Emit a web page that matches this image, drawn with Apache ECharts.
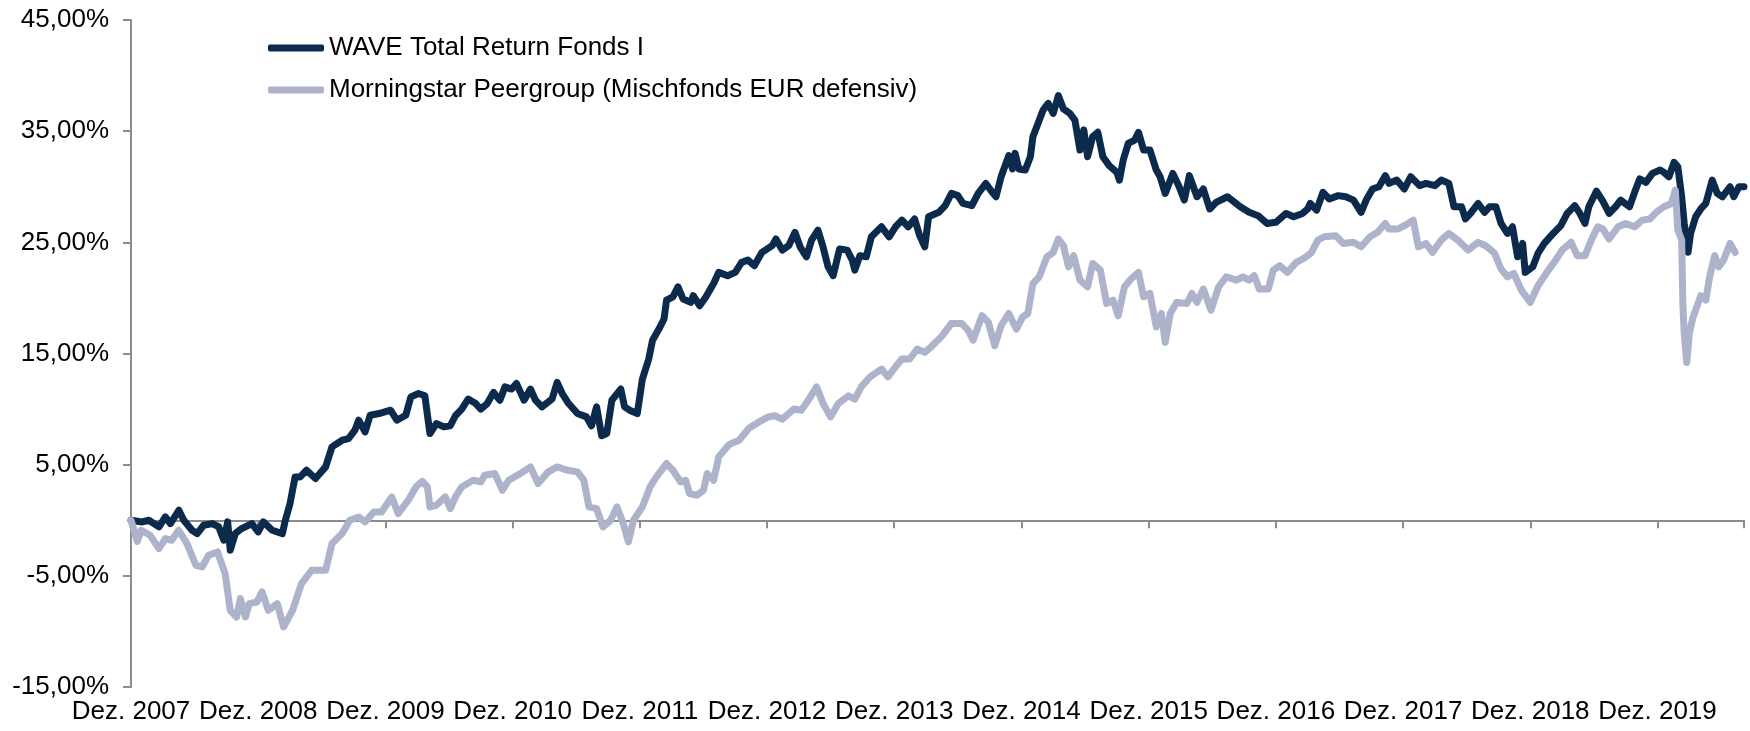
<!DOCTYPE html>
<html>
<head>
<meta charset="utf-8">
<script src="https://cdn.jsdelivr.net/npm/echarts@6/dist/echarts.min.js"></script>
<style>
html,body{margin:0;padding:0;background:#fff;}
#chart{width:1750px;height:731px;}
</style>
</head>
<body>
<div id="chart"></div>
<script>
// x values: years after Dez. 2007
var xTickLabels = ["Dez. 2007","Dez. 2008","Dez. 2009","Dez. 2010","Dez. 2011","Dez. 2012","Dez. 2013","Dez. 2014","Dez. 2015","Dez. 2016","Dez. 2017","Dez. 2018","Dez. 2019"];
var seriesNames = ["WAVE Total Return Fonds I","Morningstar Peergroup (Mischfonds EUR defensiv)"];

var waveT = [0,0.088,0.14,0.22,0.27,0.31,0.376,0.415,0.48,0.52,0.57,0.64,0.69,0.73,0.76,0.78,0.82,0.87,0.95,1.0,1.04,1.11,1.19,1.21,1.25,1.29,1.33,1.38,1.45,1.53,1.58,1.66,1.71,1.76,1.79,1.84,1.88,1.95,2.04,2.09,2.16,2.2,2.26,
2.31,2.35,2.40,2.46,2.51,2.55,2.6,2.65,2.71,2.75,2.8,2.85,2.9,2.94,2.99,3.03,3.09,3.14,3.18,3.23,3.31,3.35,3.39,3.44,3.51,3.58,3.62,3.66,3.7,3.74,3.78,3.85,3.88,3.92,3.98,4.02,4.07,4.1,4.15,4.19,4.21,4.26,4.3,4.34,4.4,4.42,4.47,4.52,4.58,
4.62,4.69,4.75,4.8,4.85,4.9,4.96,5.04,5.07,5.12,5.17,5.22,5.26,5.31,5.35,5.4,5.44,5.48,5.52,5.57,5.63,5.67,5.69,5.73,5.78,5.82,5.9,5.96,6.01,6.06,6.11,6.16,6.2,6.24,6.27,6.35,6.4,6.45,6.5,6.54,6.61,6.66,6.72,6.77,6.8,6.84,6.9,
6.93,6.95,6.98,7.03,7.07,7.09,7.13,7.17,7.21,7.25,7.29,7.33,7.38,7.42,7.46,7.49,7.52,7.56,7.6,7.64,7.69,7.75,7.77,7.8,7.84,7.89,7.92,7.96,8.01,8.06,8.09,8.13,8.19,8.24,8.28,8.32,8.38,8.43,8.48,8.53,8.62,8.72,8.79,8.86,8.93,9.0,9.08,9.14,9.21,9.25,
9.27,9.32,9.37,9.42,9.49,9.55,9.61,9.67,9.71,9.76,9.81,9.86,9.89,9.95,10.01,10.06,10.13,10.18,10.25,10.3,10.36,10.4,10.46,10.49,10.53,10.59,10.64,10.68,10.73,10.77,10.82,10.86,10.9,10.94,10.96,11.02,11.06,11.11,11.18,
11.24,11.29,11.35,11.39,11.43,11.46,11.52,11.57,11.62,11.67,11.71,11.78,11.82,11.86,11.91,11.96,12.02,12.05,12.09,12.13,12.16,12.19,12.21,12.24,12.26,12.3,12.34,12.38,12.43,12.47,12.51,12.57,12.6,12.64,12.68];
var waveValues = [0,-0.15,0,-0.6,0.3,-0.3,0.9,0,-0.9,-1.2,-0.45,-0.3,-0.6,-1.8,-0.15,-2.7,-1.2,-0.75,-0.3,-1.05,-0.15,-0.9,-1.2,-0.15,1.5,3.9,3.9,4.5,3.75,4.8,6.6,7.2,7.35,8.1,9.0,7.95,9.45,9.6,9.9,9.0,9.45,11.1,11.4,
11.2,7.8,8.7,8.4,8.5,9.4,10.0,10.9,10.5,10.0,10.5,11.5,10.8,12.0,11.8,12.3,10.8,11.8,10.8,10.2,10.9,12.4,11.4,10.5,9.6,9.3,8.5,10.2,7.6,7.8,10.8,11.8,10.2,9.9,9.6,12.7,14.5,16.2,17.2,18.1,19.8,20.1,21.0,19.9,19.6,20.2,19.3,20.1,21.3,
22.3,22.0,22.3,23.2,23.4,22.9,24.1,24.7,25.3,24.3,24.7,25.9,24.6,23.7,25.2,26.1,24.6,22.8,22.0,24.4,24.3,23.4,22.5,23.8,23.7,25.5,26.4,25.5,26.4,27.0,26.4,27.1,25.6,24.6,27.3,27.7,28.3,29.4,29.2,28.5,28.3,29.4,30.3,29.5,29.1,30.9,32.8,
31.6,33.0,31.6,31.5,32.7,34.5,35.7,36.9,37.5,36.6,38.2,37.0,36.6,36.0,33.3,35.1,32.7,34.5,34.9,32.7,31.9,31.3,30.6,32.4,33.9,34.2,34.9,33.3,33.3,31.5,30.9,29.4,31.2,30.0,28.8,31.0,29.1,29.8,28.0,28.6,29.1,28.2,27.7,27.4,26.7,26.8,27.6,27.3,27.6,28.0,
28.5,27.9,29.5,28.9,29.2,29.1,28.8,27.7,28.8,29.8,30.0,31.0,30.3,30.6,29.8,30.9,30.1,30.3,30.1,30.6,30.3,28.2,28.2,27.1,27.6,28.5,27.7,28.2,28.2,26.7,25.8,26.4,23.7,24.9,22.3,22.8,24.0,24.9,25.8,
26.5,27.6,28.3,27.6,26.7,28.2,29.6,28.7,27.6,28.2,28.8,28.2,29.5,30.7,30.4,31.2,31.5,31.3,30.9,32.2,31.8,29.1,26.7,24.1,25.8,27.3,28.0,28.5,30.6,29.4,29.1,30.0,29.1,30.0,30.0];

var peerT = [0,0.05,0.08,0.15,0.22,0.27,0.32,0.375,0.44,0.51,0.56,0.61,0.68,0.74,0.78,0.83,0.86,0.9,0.93,0.99,1.03,1.08,1.15,1.2,1.27,1.34,1.42,1.53,1.58,1.66,1.72,1.79,1.84,1.91,1.97,2.05,2.1,2.18,2.24,2.29,
2.33,2.35,2.40,2.47,2.51,2.55,2.6,2.69,2.75,2.78,2.86,2.92,2.97,3.06,3.14,3.2,3.28,3.35,3.43,3.51,3.56,3.6,3.66,3.71,3.77,3.82,3.87,3.91,3.95,4.02,4.08,4.13,4.21,4.26,4.32,4.36,4.39,4.45,4.5,4.53,4.58,4.62,
4.7,4.78,4.86,4.93,5.01,5.06,5.12,5.21,5.27,5.33,5.39,5.44,5.5,5.56,5.64,5.69,5.74,5.81,5.9,5.95,6.01,6.06,6.12,6.18,6.24,6.29,6.37,6.45,6.53,6.58,6.62,6.69,6.74,6.79,6.84,6.9,
6.96,7.01,7.05,7.09,7.14,7.2,7.25,7.29,7.33,7.37,7.41,7.46,7.52,7.56,7.62,7.67,7.72,7.76,7.81,7.86,7.92,7.96,8.01,8.06,8.1,8.13,8.17,8.22,8.3,8.34,8.38,8.43,8.49,8.55,8.61,8.69,8.74,8.79,8.83,8.87,8.94,8.98,9.03,9.09,9.16,9.21,
9.25,9.28,9.33,9.38,9.47,9.53,9.61,9.67,9.74,9.8,9.86,9.89,9.96,10.01,10.08,10.12,10.18,10.23,10.3,10.36,10.43,10.51,10.59,10.65,10.72,10.77,10.82,10.87,10.93,11.0,11.06,11.13,11.2,
11.25,11.32,11.37,11.43,11.48,11.53,11.57,11.62,11.69,11.75,11.82,11.88,11.94,11.99,12.05,12.11,12.14,12.16,12.19,12.2,12.21,12.23,12.25,12.28,12.3,12.34,12.38,12.41,12.45,12.48,12.52,12.57,12.61];
var peerValues = [0,-1.9,-0.9,-1.35,-2.55,-1.65,-1.8,-0.9,-2.1,-4.05,-4.2,-3.15,-2.85,-4.8,-8.1,-8.7,-7.05,-8.7,-7.5,-7.35,-6.45,-8.1,-7.5,-9.6,-8.1,-5.7,-4.5,-4.5,-2.1,-1.2,0,0.3,-0.15,0.75,0.75,2.1,0.6,1.8,3.0,3.5,
3.0,1.2,1.35,2.1,1.05,2.1,3.0,3.6,3.45,4.05,4.2,2.7,3.6,4.2,4.8,3.3,4.35,4.8,4.5,4.35,3.6,1.2,1.05,-0.6,0,1.2,-0.3,-1.95,0,1.2,3.0,3.9,5.1,4.5,3.45,3.6,2.4,2.25,2.7,4.2,3.6,5.7,
6.8,7.2,8.3,8.8,9.3,9.4,9.1,10.0,9.9,10.9,12.0,10.5,9.3,10.5,11.2,10.9,12.0,12.9,13.6,12.9,13.8,14.5,14.5,15.4,15.1,15.6,16.5,17.7,17.7,17.1,16.2,18.4,17.8,15.7,17.5,18.6,
17.2,18.3,18.6,21.3,21.9,23.7,24.1,25.3,24.7,22.8,23.8,21.6,21.0,23.1,22.5,19.5,19.8,18.4,21.0,21.7,22.3,20.1,20.4,17.4,18.6,16.0,18.6,19.6,19.5,20.4,19.6,20.8,18.9,21.0,21.9,21.6,21.9,21.6,22.0,20.8,20.8,22.5,22.9,22.3,23.2,23.5,
23.8,24.1,25.2,25.5,25.6,24.9,25.0,24.6,25.5,25.9,26.7,26.2,26.2,26.5,27.0,24.6,24.9,24.1,25.2,25.8,25.2,24.3,25.0,24.7,24.0,22.6,21.9,22.2,20.7,19.6,21.1,22.3,23.4,
24.3,25.0,23.8,23.8,25.2,26.4,26.2,25.3,26.4,26.7,26.4,27.0,27.1,27.7,28.2,28.5,29.7,26.1,25.2,19.2,16.8,14.2,16.8,18.3,18.9,20.2,19.8,21.9,23.8,22.8,23.4,24.9,24.1];

function zip(a, b) { return a.map(function (t, i) { return [t, b[i]]; }); }

var FONT = "Liberation Sans, Arial, sans-serif";
var chart = echarts.init(document.getElementById('chart'), null, {renderer: 'canvas'});
chart.setOption({
  animation: false,
  backgroundColor: '#ffffff',
  grid: {left: 131, right: 6, top: 20, bottom: 44, containLabel: false},
  legend: {
    orient: 'vertical', left: 263, top: 29,
    itemWidth: 56, itemHeight: 7, itemGap: 14,
    icon: 'roundRect',
    data: seriesNames,
    textStyle: {fontSize: 26, fontFamily: FONT, color: '#000', lineHeight: 28}
  },
  xAxis: [{
    type: 'value', min: 0, max: 12.68, interval: 1,
    position: 'bottom',
    axisLine: {show: true, onZero: true, lineStyle: {color: '#8c8c8c', width: 2}},
    axisTick: {show: true, length: 8, inside: false, lineStyle: {color: '#8c8c8c', width: 2}},
    axisLabel: {show: false},
    splitLine: {show: false}
  }, {
    type: 'value', min: 0, max: 12.68, interval: 1,
    position: 'bottom',
    axisLine: {show: false, onZero: false},
    axisTick: {show: false},
    splitLine: {show: false},
    axisLabel: {
      show: true, margin: 12, fontSize: 26, fontFamily: FONT, color: '#000',
      formatter: function (v) { var i = Math.round(v); return Math.abs(v - i) < 1e-6 && xTickLabels[i] ? xTickLabels[i] : ''; }
    }
  }],
  yAxis: {
    type: 'value', min: -15, max: 45, interval: 10,
    axisLine: {show: true, lineStyle: {color: '#8c8c8c', width: 2}},
    axisTick: {show: true, length: 8, lineStyle: {color: '#8c8c8c', width: 2}},
    splitLine: {show: false},
    axisLabel: {
      margin: 22, fontSize: 26, fontFamily: FONT, color: '#000',
      formatter: function (v) { return v.toFixed(2).replace('.', ',') + '%'; }
    }
  },
  series: [{
    name: seriesNames[0], type: 'line', xAxisIndex: 0,
    data: zip(waveT, waveValues),
    showSymbol: false, symbol: 'none',
    color: '#0c2a4b',
    lineStyle: {width: 7, color: '#0c2a4b', cap: 'round', join: 'round'},
    itemStyle: {color: '#0c2a4b'}
  }, {
    name: seriesNames[1], type: 'line', xAxisIndex: 0,
    data: zip(peerT, peerValues),
    showSymbol: false, symbol: 'none',
    color: '#adb3cb',
    lineStyle: {width: 7, color: '#adb3cb', cap: 'round', join: 'round'},
    itemStyle: {color: '#adb3cb'}
  }]
});
</script>
</body>
</html>
